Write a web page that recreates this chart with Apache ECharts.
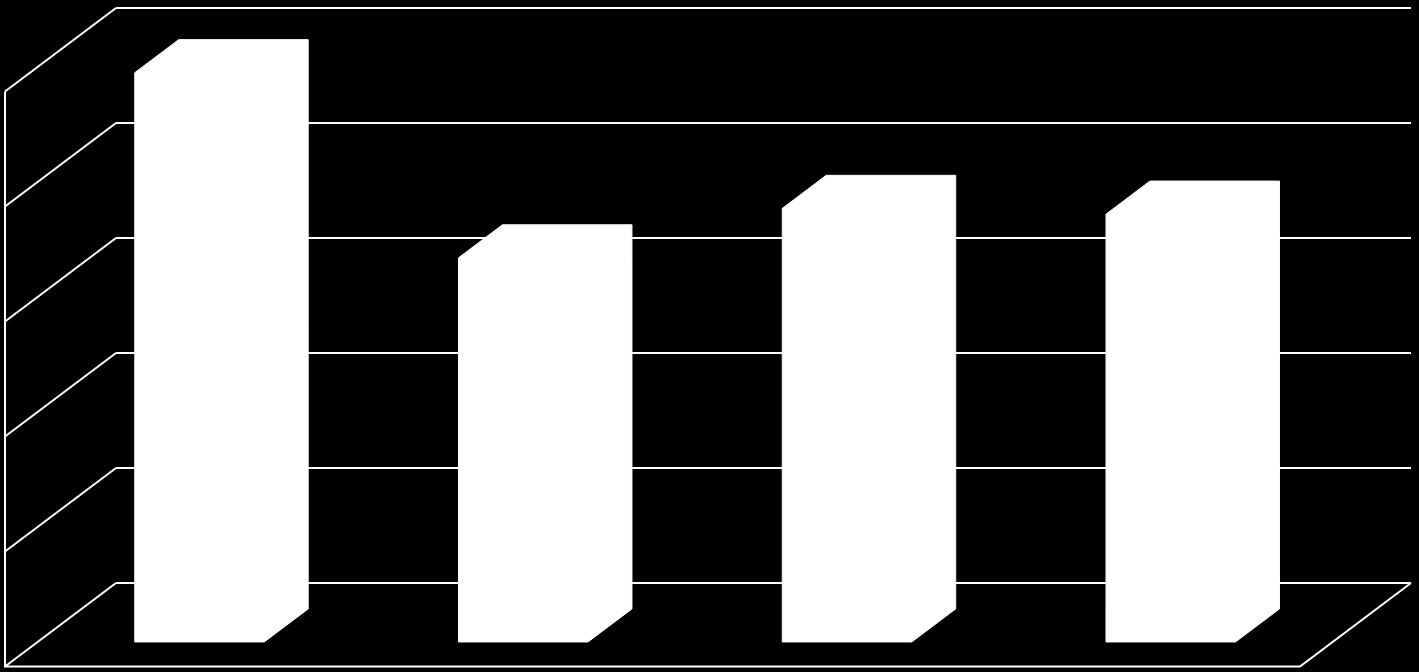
<!DOCTYPE html>
<html>
<head>
<meta charset="utf-8">
<script src="https://cdn.jsdelivr.net/npm/echarts@6/dist/echarts.min.js"></script>
<style>
  html, body { margin: 0; padding: 0; background: #000; }
  #main { width: 1419px; height: 672px; }
</style>
</head>
<body>
<div id="main"></div>
<script>
// data
const categories = ['A', 'B', 'C', 'D'];
const values = [4.95, 3.34, 3.77, 3.72];
const ticks = [0, 1, 2, 3, 4, 5];

// fake perspective: how far the front edge sits from the back wall
const DEPTH_X = -111;
const DEPTH_Y = 83.5;
const BAR_BACK = 0.31;   // bar back face, fraction of depth
const BAR_FRONT = 0.706; // bar front face
const BAR_RATIO = 0.4;   // bar width / category width

const shift = (p, d) => [p[0] + DEPTH_X * d, p[1] + DEPTH_Y * d];

// left wall + floor outline
const renderWall = (params, api) => {
    const cs = params.coordSys;
    const v = api.value(0);
    const back = api.coord([0, v]);
    const left = [cs.x, back[1]];
    const children = [{
        type: 'line',
        shape: { x1: left[0], y1: left[1], x2: left[0] + DEPTH_X, y2: left[1] + DEPTH_Y },
        style: { stroke: '#fff', lineWidth: 2 }
    }];
    if (params.dataIndex === 0) {
        const top = api.coord([0, ticks[ticks.length - 1]]);
        const fl = [cs.x + DEPTH_X, back[1] + DEPTH_Y];
        const fr = [cs.x + cs.width + DEPTH_X, back[1] + DEPTH_Y];
        children.push({
            type: 'polyline',
            shape: { points: [[fl[0], top[1] + DEPTH_Y], fl, fr, [cs.x + cs.width, back[1]]] },
            style: { stroke: '#fff', lineWidth: 2, fill: null }
        });
    }
    return { type: 'group', children: children };
};

// 3d-looking bar: front face + top + right side as one white shape
const renderBar = (params, api) => {
    const i = api.value(0);
    const top = api.coord([i, api.value(1)]);
    const base = api.coord([i, 0]);
    const half = api.size([1, 0])[0] * BAR_RATIO / 2;
    const tl = [top[0] - half, top[1]], tr = [top[0] + half, top[1]];
    const br = [base[0] + half, base[1]], bl = [base[0] - half, base[1]];
    const pts = [
        shift(bl, BAR_FRONT), shift(tl, BAR_FRONT), shift(tl, BAR_BACK),
        shift(tr, BAR_BACK), shift(br, BAR_BACK), shift(br, BAR_FRONT)
    ];
    return {
        type: 'polygon',
        shape: { points: pts },
        style: { fill: '#fff', stroke: '#fff', lineWidth: 1 }
    };
};

const chart = echarts.init(document.getElementById('main'));
chart.setOption({
    backgroundColor: '#000',
    animation: false,
    grid: { left: 116, right: 8, top: 8, bottom: 89 },
    xAxis: {
        type: 'category',
        data: categories,
        axisLine: { show: false },
        axisTick: { show: false },
        axisLabel: { show: false },
        splitLine: { show: false }
    },
    yAxis: {
        type: 'value',
        min: 0,
        max: 5,
        interval: 1,
        axisLine: { show: false },
        axisTick: { show: false },
        axisLabel: { show: false },
        splitLine: { show: true, lineStyle: { color: '#fff', width: 2 } }
    },
    series: [
        {
            type: 'custom',
            renderItem: renderWall,
            data: ticks.map(t => [t]),
            encode: { y: 0 },
            z: 1,
            silent: true
        },
        {
            type: 'custom',
            renderItem: renderBar,
            data: values.map((v, i) => [i, v]),
            encode: { x: 0, y: 1 },
            z: 2
        }
    ]
});
</script>
</body>
</html>
